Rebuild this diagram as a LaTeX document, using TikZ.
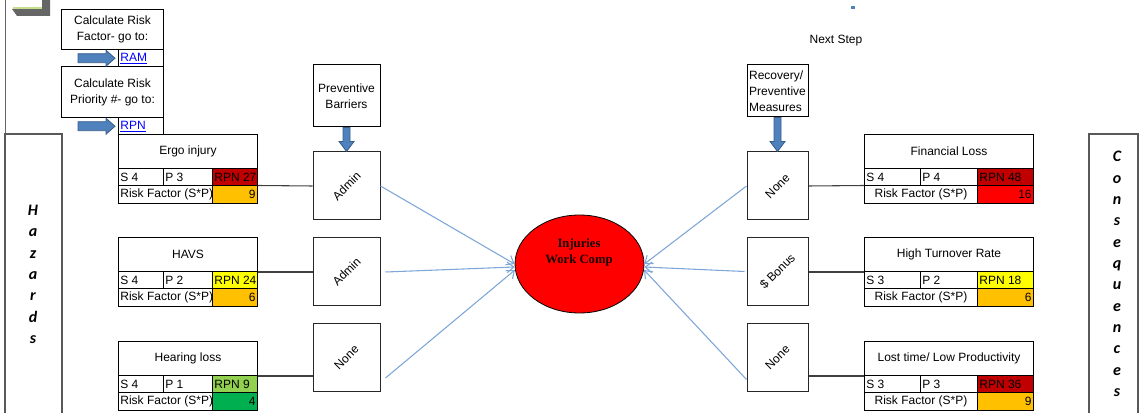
\documentclass[tikz,border=0pt]{standalone}
\usepackage{fontspec}
\usepackage{graphicx}
\setmainfont{Liberation Sans}
\newfontfamily\carl{Carlito}
\newfontfamily\tms{Liberation Serif}
\usetikzlibrary{arrows.meta,shapes.geometric}
\definecolor{rpnred}{HTML}{C00000}
\definecolor{rpnyel}{HTML}{FFFF00}
\definecolor{rpngrn}{HTML}{92D050}
\definecolor{rforange}{HTML}{FFC000}
\definecolor{rfgreen}{HTML}{00B050}
\definecolor{rfred}{HTML}{FF0000}
\definecolor{arrblue}{HTML}{4F81BD}
\definecolor{arredge}{HTML}{385D8A}
\definecolor{linkblue}{HTML}{0000FF}
\definecolor{connblue}{HTML}{7EA6D8}
\definecolor{btngreen}{HTML}{C4E08C}
\newcommand\pxl[1]{(#1)*0.75pt}
\begin{document}
\begin{tikzpicture}[x=0.75pt,y=-0.75pt,
  tabfont/.style={font=\fontsize{9}{12}\selectfont},
  tcell/.style={draw=black, line width=0.75pt, anchor=north west, inner sep=0pt, minimum height=\pxl{17.5}},
  tlab/.style={tabfont, inner sep=1.6pt},
  sidebox/.style={draw=black!65, line width=0.9pt},
  barbox/.style={draw=black!85, line width=0.75pt, inner sep=0pt, minimum height=\pxl{68}, font=\fontsize{9}{10}\selectfont},
  conn/.style={draw=black!75, line width=0.8pt},
  bconn/.style={draw=connblue, line width=0.8pt, -{Straight Barb[length=5pt,width=8pt]}},
  blockarr/.style={fill=arrblue, draw=arredge, line width=0.6pt},
  letters/.style={font=\carl\bfseries\itshape\fontsize{12}{16}\selectfont, align=center, inner sep=0pt},
]
\useasboundingbox (0,0) rectangle (1140,413);
\clip (0,0) rectangle (1140,413);

% top-left button fragment and left border line
\fill[black!60] (12,9) -- (17,16) -- (50,16) -- (50,0) -- (42,0) -- (42,9) -- cycle;
\draw[btngreen, line width=1.5pt] (13,8) -- (42,8);
\draw[black!60, line width=0.75pt] (5,0) -- (5,134);

% calculation boxes and links
\node[tcell, minimum width=\pxl{102}, minimum height=\pxl{40}, tabfont, align=center] (calc1) at (61,9) {Calculate Risk\\Factor- go to:};
\node[tcell, minimum width=\pxl{45}, label={[tlab,anchor=west,text=linkblue]west:\underline{RAM}}] (ram) at (118,49) {};
\node[tcell, minimum width=\pxl{102}, minimum height=\pxl{51}, tabfont, align=center] (calc2) at (61,66) {Calculate Risk\\Priority \#- go to:};
\node[tcell, minimum width=\pxl{45}, label={[tlab,anchor=west,text=linkblue]west:\underline{RPN}}] (rpn) at (118,117) {};
\foreach \c in {ram,rpn}{
  \draw[blockarr] ([shift={(-40,-4.5)}]\c.west) -- ([shift={(-12,-4.5)}]\c.west) -- ([shift={(-12,-8)}]\c.west) -- ([shift={(-3,0)}]\c.west) -- ([shift={(-12,8)}]\c.west) -- ([shift={(-12,4.5)}]\c.west) -- ([shift={(-40,4.5)}]\c.west) -- cycle;
}

% side boxes
\draw[sidebox] (5,420) -- (5,134) -- (62,134) -- (62,420);
\node[letters] (hz) at (33,274.5) {H\\a\\z\\a\\r\\d\\s};
\draw[sidebox] (1089,420) -- (1089,134) -- (1138,134) -- (1138,420);
\node[letters] (cq) at (1117,274) {C\\o\\n\\s\\e\\q\\u\\e\\n\\c\\e\\s};

% headings
\node[tcell, anchor=center, minimum width=\pxl{67}, minimum height=\pxl{62}, tabfont, align=center] (pb) at (346.5,96) {Preventive\\Barriers};
\node[tcell, anchor=center, minimum width=\pxl{61}, minimum height=\pxl{52}, tabfont, align=left] (rec) at (777.5,91) {Recovery/\\Preventive\\Measures};
\node[tabfont] (ns) at (836,41) {Next Step};
\fill[arrblue] (851,6) rectangle (855,9);

% barriers
\node[barbox, minimum width=\pxl{67}] (b1) at (346.5,186) {\rotatebox{45}{Admin}};
\node[barbox, minimum width=\pxl{67}] (b2) at (346.5,271.5) {\rotatebox{45}{Admin}};
\node[barbox, minimum width=\pxl{67}] (b3) at (346.5,357.5) {\rotatebox{45}{None}};
\node[barbox, minimum width=\pxl{61}] (r1) at (777.5,186) {\rotatebox{45}{None}};
\node[barbox, minimum width=\pxl{61}] (r2) at (777.5,271.5) {\rotatebox{45}{\$ Bonus}};
\node[barbox, minimum width=\pxl{61}] (r3) at (777.5,357.5) {\rotatebox{45}{None}};

% block arrows down
\foreach \a/\b in {pb/b1, rec/r1}{
  \draw[blockarr] ([shift={(-3.5,0)}]\a.south) -- ([shift={(3.5,0)}]\a.south) -- ([shift={(3.5,-10)}]\b.north) -- ([shift={(7.5,-10)}]\b.north) -- (\b.north) -- ([shift={(-7.5,-10)}]\b.north) -- ([shift={(-3.5,-10)}]\b.north) -- cycle;
}

% central event
\node[ellipse, draw=black, line width=0.6pt, fill=red, minimum width=\pxl{129}, minimum height=\pxl{98}, inner sep=0pt] (inj) at (579.5,264) {};
\node[font=\tms\bfseries\fontsize{9.5}{12}\selectfont, align=center, text=black!90!red] (injt) at (579,252) {Injuries\\Work Comp};

% risk tables
\foreach \n/\xa/\xs/\xp/\xb/\yt/\ttl/\sv/\pv/\rv/\rc/\fv/\fc/\al in {
  ergo/118/163/212/257/134/{Ergo injury}/4/3/27/rpnred/9/rforange/west,
  havs/118/163/212/257/237/{HAVS}/4/2/24/rpnyel/6/rforange/west,
  hear/118/163/212/257/341/{Hearing loss}/4/1/9/rpngrn/4/rfgreen/west,
  fin/864/920/977/1033/134/{Financial Loss}/4/4/48/rpnred/16/rfred/center,
  turn/864/920/977/1033/237/{High Turnover Rate}/3/2/18/rpnyel/6/rforange/center,
  lost/864/920/977/1033/341/{Lost time/ Low Productivity}/3/3/36/rpnred/9/rforange/center}{
  \node[tcell, minimum width=\pxl{\xb-\xa}, minimum height=\pxl{34}, tabfont] (\n) at (\xa,\yt) {\ttl};
  \node[tcell, minimum width=\pxl{\xs-\xa}, label={[tlab,anchor=west]west:S \sv}] (\n-s) at (\xa,{\yt+34}) {};
  \node[tcell, minimum width=\pxl{\xp-\xs}, label={[tlab,anchor=west]west:P \pv}] (\n-p) at (\xs,{\yt+34}) {};
  \node[tcell, fill=\rc, minimum width=\pxl{\xb-\xp}, label={[tlab,anchor=west]west:RPN \rv}] (\n-r) at (\xp,{\yt+34}) {};
  \node[tcell, minimum width=\pxl{\xp-\xa}, label={[tlab,anchor=\al]\al:Risk Factor (S*P)}] (\n-rl) at (\xa,{\yt+51.5}) {};
  \node[tcell, fill=\fc, minimum width=\pxl{\xb-\xp}, label={[tlab,anchor=east]east:\fv}] (\n-rf) at (\xp,{\yt+51.5}) {};
}

% table to barrier connectors
\draw[conn] (ergo-rf.north east) -- (b1.west);
\draw[conn] (havs.south east) -- (havs.south east -| b2.west);
\draw[conn] (hear.south east) -- (hear.south east -| b3.west);
\draw[conn] (r1.east) -- (fin-rl.north west);
\draw[conn] (turn.south west -| r2.east) -- (turn.south west);
\draw[conn] (lost.south west -| r3.east) -- (lost.south west);

% barrier to event connectors
\draw[bconn] (b1.east) -- (inj.west);
\draw[bconn] ([shift={(5,0.5)}]b2.east) -- ([shift={(0,3)}]inj.west);
\draw[bconn] ([shift={(5,20.5)}]b3.east) -- ([shift={(0.3,6)}]inj.west);
\draw[bconn] (r1.west) -- (inj.east);
\draw[bconn] ([shift={(-2,0)}]r2.west) -- ([shift={(0,3)}]inj.east);
\draw[bconn] ([shift={(0,22)}]r3.west) -- ([shift={(-0.3,6)}]inj.east);
\end{tikzpicture}
\end{document}
